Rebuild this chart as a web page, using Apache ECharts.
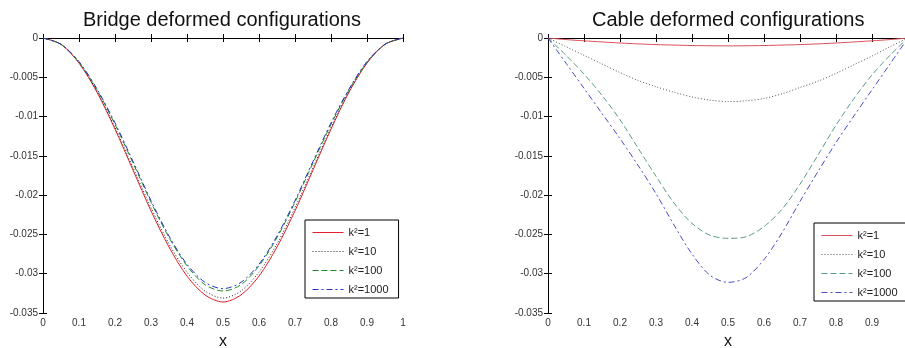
<!DOCTYPE html>
<html>
<head>
<meta charset="utf-8">
<script src="https://cdn.jsdelivr.net/npm/echarts@6/dist/echarts.min.js"></script>
<style>
  html, body { margin: 0; padding: 0; background: #fff; overflow: hidden; }
  #chart { width: 910px; height: 348px; }
</style>
</head>
<body>
<div id="chart"></div>
<script>
// x positions along the span
const xs = [0, 0.05, 0.1, 0.15, 0.2, 0.25, 0.3, 0.35, 0.4, 0.45, 0.5,
  0.55, 0.6, 0.65, 0.7, 0.75, 0.8, 0.85, 0.9, 0.95, 1]

const labels = ['k²=1', 'k²=10', 'k²=100', 'k²=1000']

// bridge deflection
const bridgeK1 = [0, -0.0008, -0.0032, -0.0069, -0.0116, -0.0168, -0.0220, -0.0266, -0.0303, -0.0327, -0.0336,
  -0.0327, -0.0303, -0.0266, -0.0220, -0.0168, -0.0116, -0.0069, -0.0032, -0.0008, 0]
const bridgeK10 = [0, -0.0008, -0.0031, -0.0068, -0.0114, -0.0165, -0.0216, -0.0262, -0.0298, -0.0322, -0.0331,
  -0.0322, -0.0298, -0.0262, -0.0216, -0.0165, -0.0114, -0.0068, -0.0031, -0.0008, 0]
const bridgeK100 = [0, -0.0008, -0.0031, -0.0066, -0.0110, -0.0159, -0.0209, -0.0254, -0.0290, -0.0314, -0.0322,
  -0.0314, -0.0290, -0.0254, -0.0209, -0.0159, -0.0110, -0.0066, -0.0031, -0.0008, 0]
const bridgeK1000 = [0, -0.0008, -0.0030, -0.0065, -0.0108, -0.0157, -0.0207, -0.0252, -0.0288, -0.0311, -0.0319,
  -0.0311, -0.0288, -0.0252, -0.0207, -0.0157, -0.0108, -0.0065, -0.0030, -0.0008, 0]

// cable deflection
const cableK1 = [0, -0.0002, -0.00036, -0.0005, -0.00064, -0.00075, -0.00084, -0.0009, -0.00096, -0.00099, -0.001,
  -0.00099, -0.00096, -0.0009, -0.00084, -0.00075, -0.00064, -0.0005, -0.00036, -0.0002, 0]
const cableK10 = [0, -0.0011, -0.0022, -0.0033, -0.0044, -0.0054, -0.0062, -0.0069, -0.0075, -0.0079, -0.0081,
  -0.0080, -0.0077, -0.0071, -0.0063, -0.0055, -0.0045, -0.0034, -0.0023, -0.0011, 0]
const cableK100 = [0, -0.0022, -0.0046, -0.0073, -0.0104, -0.0140, -0.0176, -0.0210, -0.0236, -0.0251, -0.0255,
  -0.0253, -0.0240, -0.0218, -0.0186, -0.0149, -0.0111, -0.0077, -0.0047, -0.0022, 0]
const cableK1000 = [0, -0.0032, -0.0064, -0.0096, -0.0128, -0.0162, -0.0198, -0.0238, -0.0275, -0.0302, -0.0311,
  -0.0305, -0.0282, -0.0248, -0.0208, -0.0170, -0.0133, -0.0099, -0.0066, -0.0033, 0]

const FONT = '"Liberation Sans", Arial, sans-serif'

const DASHES = ['solid', [1, 2], [6, 3], [6, 3, 2, 3]]
const BRIDGE_COLORS = ['#e0202a', '#222222', '#1f8a2a', '#2233cc']
const CABLE_COLORS = ['#d9505a', '#555555', '#5a9a8a', '#4a4ac8']

const zip = (ys) => xs.map((x, i) => [x, ys[i]])

function makeSeries(prefix, sets, colors, axisIndex) {
  return sets.map((ys, i) => ({
    name: prefix + ':' + labels[i],
    type: 'line',
    xAxisIndex: axisIndex,
    yAxisIndex: axisIndex,
    symbol: 'none',
    smooth: 0.3,
    animation: false,
    lineStyle: { color: colors[i], width: 1, type: DASHES[i] },
    itemStyle: { color: colors[i] },
    data: zip(ys),
  }))
}

function xAxes(gridIndex, hideMax) {
  return [
    {
      type: 'value', gridIndex, position: 'bottom', min: 0, max: 1, interval: 0.1,
      axisLine: { lineStyle: { color: '#000', width: 1 } },
      axisTick: { inside: true, length: 4, lineStyle: { color: '#000' } },
      axisLabel: {
        color: '#333', fontSize: 10, fontFamily: FONT, margin: 5,
        showMaxLabel: !hideMax,
        formatter: (v) => String(+v.toFixed(1)),
      },
      splitLine: { show: false },
      name: 'x', nameLocation: 'middle', nameGap: 21, nameMoveOverlap: false,
      nameTextStyle: { fontSize: 16, fontFamily: FONT, color: '#111' },
    },
    {
      type: 'value', gridIndex, position: 'top', min: 0, max: 1, interval: 0.1,
      axisLine: { lineStyle: { color: '#000', width: 1 } },
      axisTick: { inside: true, length: 4, lineStyle: { color: '#000' } },
      axisLabel: { show: false },
      splitLine: { show: false },
    },
  ]
}

function yAxes(gridIndex) {
  return [
    {
      type: 'value', gridIndex, position: 'left', min: -0.035, max: 0, interval: 0.005,
      axisLine: { show: true, lineStyle: { color: '#000', width: 1 } },
      axisTick: { show: true, inside: true, length: 4, lineStyle: { color: '#000' } },
      axisLabel: {
        color: '#333', fontSize: 10, fontFamily: FONT, margin: 5,
        formatter: (v) => String(+v.toFixed(3)),
      },
      splitLine: { show: false },
    },
    {
      type: 'value', gridIndex, position: 'right', min: -0.035, max: 0, interval: 0.005,
      axisLine: { show: true, lineStyle: { color: '#000', width: 1 } },
      axisTick: { show: true, inside: true, length: 4, lineStyle: { color: '#000' } },
      axisLabel: { show: false },
      splitLine: { show: false },
    },
  ]
}

function legend(prefix, colors, left, top) {
  return {
    orient: 'vertical',
    left, top,
    data: labels.map((l, i) => ({
      name: prefix + ':' + l,
      lineStyle: { color: colors[i], width: 1, type: DASHES[i] },
      itemStyle: { opacity: 0 },
    })),
    formatter: (n) => n.split(':')[1],
    backgroundColor: '#fff',
    borderColor: '#000',
    borderWidth: 1,
    borderRadius: 0,
    padding: [7, 10, 3, 7],
    itemWidth: 31,
    itemHeight: 11,
    itemGap: 8,
    selectedMode: false,
    textStyle: { fontSize: 11, fontFamily: FONT, color: '#222' },
  }
}

const chart = echarts.init(document.getElementById('chart'), null, { renderer: 'canvas' })

// axis order: 0 bottom/left of bridge, 1 top/right of bridge, 2 bottom/left of cable, 3 top/right of cable
chart.setOption({
  animation: false,
  title: [
    { text: 'Bridge deformed configurations', left: 83, top: 10, padding: 0,
      textStyle: { fontSize: 20, fontWeight: 'normal', fontFamily: FONT, color: '#111' } },
    { text: 'Cable deformed configurations', left: 592, top: 10, padding: 0,
      textStyle: { fontSize: 20, fontWeight: 'normal', fontFamily: FONT, color: '#111' } },
  ],
  grid: [
    { left: 43, top: 38, width: 360, height: 275, outerBoundsMode: 'none' },
    { left: 548, top: 38, width: 360, height: 275, outerBoundsMode: 'none' },
  ],
  xAxis: [...xAxes(0, false), ...xAxes(1, true)],
  yAxis: [...yAxes(0), ...yAxes(1)],
  legend: [legend('bridge', BRIDGE_COLORS, 305, 220), legend('cable', CABLE_COLORS, 814, 223)],
  series: [
    ...makeSeries('bridge', [bridgeK1, bridgeK10, bridgeK100, bridgeK1000], BRIDGE_COLORS, 0),
    ...makeSeries('cable', [cableK1, cableK10, cableK100, cableK1000], CABLE_COLORS, 2),
  ],
})
</script>
</body>
</html>
